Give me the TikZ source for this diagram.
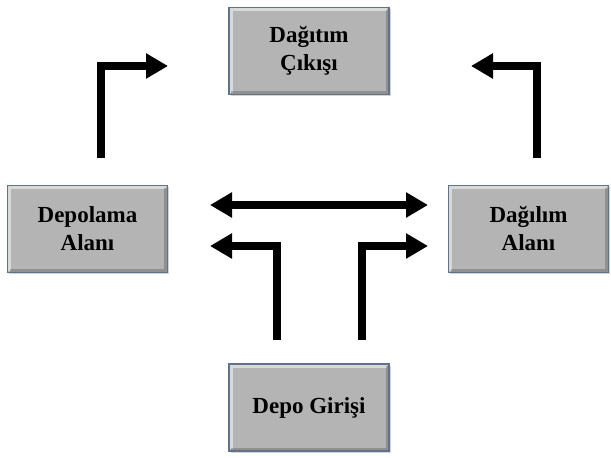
\documentclass[tikz,border=0pt]{standalone}
\usepackage{fontspec}
\setmainfont{Liberation Serif}
\usetikzlibrary{arrows.meta,shadows}

\begin{document}
\begin{tikzpicture}[x=1pt,y=-1pt,
    boite/.style={draw=bordcolor, line width=1.2pt, fill=boitecolor,
      minimum width=160pt, minimum height=87pt, align=center,
      font=\bfseries\fontsize{23}{28}\selectfont,
      drop shadow={shadow xshift=1.5pt, shadow yshift=-1.5pt, opacity=0.35},
      path picture={
        \draw[white, opacity=0.5, line width=3pt]
          ([xshift=2pt,yshift=2pt]path picture bounding box.south west)
          |- ([xshift=-2pt,yshift=-2pt]path picture bounding box.north east);
        \draw[black, opacity=0.2, line width=3pt]
          ([xshift=2pt,yshift=2pt]path picture bounding box.south west)
          -| ([xshift=-2pt,yshift=-2pt]path picture bounding box.north east);
      }},
    fleche/.style={line width=8pt, line join=miter,
      -{Triangle[length=22pt,width=24pt]}},
    dfleche/.style={line width=8pt,
      {Triangle[length=22pt,width=24pt]}-{Triangle[length=22pt,width=24pt]}}]
  % Définir les couleurs du schéma
  \definecolor{boitecolor}{RGB}{180,180,180}
  \definecolor{bordcolor}{RGB}{95,115,140}

  \useasboundingbox (0,0) rectangle (611,458);

  % Dessiner les boîtes
  \node[boite] at (309,51) (sortie) {Dağıtım\\Çıkışı};
  \node[boite] at (87.5,229) (stock) {Depolama\\Alanı};
  \node[boite] at (528.5,229) (distrib) {Dağılım\\Alanı};
  \node[boite] at (309,407.5) (entree) {Depo Girişi};

  % Points libres des flèches
  \coordinate (s1) at (101,158);
  \coordinate (e1) at (168,66);
  \coordinate (s2) at (537,158);
  \coordinate (e2) at (471,66);
  \coordinate (g) at (210,205);
  \coordinate (d) at (428,205);
  \coordinate (s3) at (276.5,340);
  \coordinate (e3) at (210,246);
  \coordinate (s4) at (361.5,340);
  \coordinate (e4) at (428,246);

  % Dessiner les flèches vers la sortie
  \draw[fleche] (s1) |- (e1);
  \draw[fleche] (s2) |- (e2);

  % Flèche double entre les deux zones
  \draw[dfleche] (g) -- (d);

  % Flèches depuis l'entrée
  \draw[fleche] (s3) |- (e3);
  \draw[fleche] (s4) |- (e4);
\end{tikzpicture}
\end{document}
